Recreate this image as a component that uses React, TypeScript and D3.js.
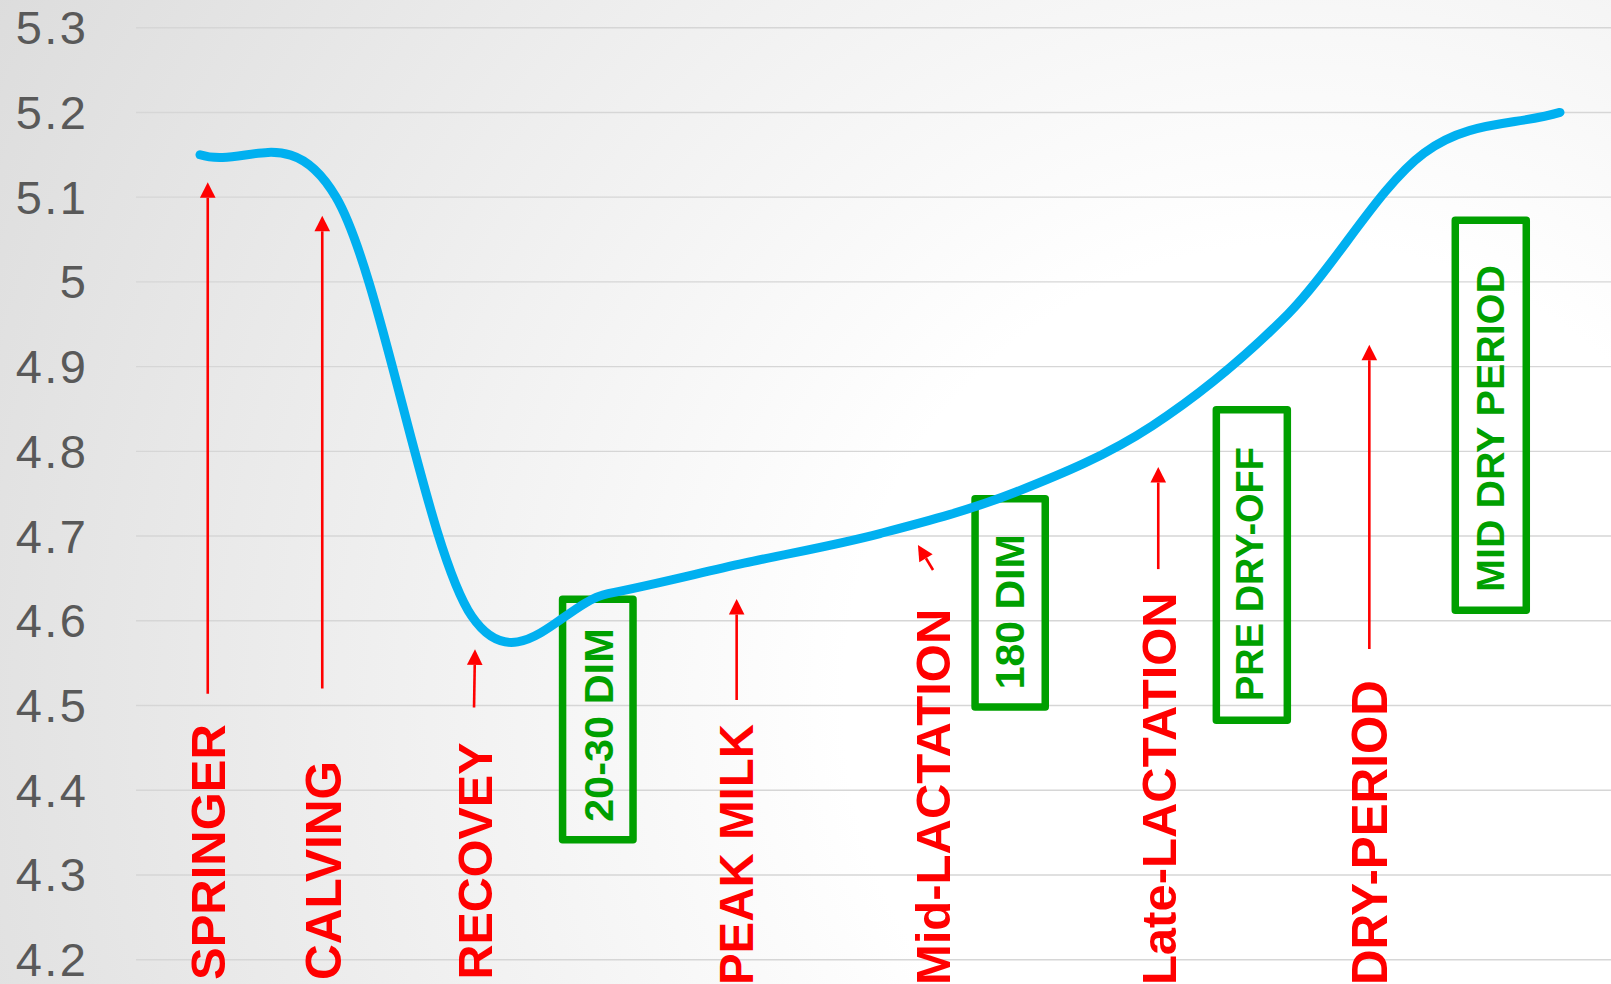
import React from 'react';
import * as d3 from 'd3';

const W = 1611;
const H = 984;

// value axis
const yTicks = [4.2, 4.3, 4.4, 4.5, 4.6, 4.7, 4.8, 4.9, 5.0, 5.1, 5.2, 5.3];
const yTickLabels = ['4.2', '4.3', '4.4', '4.5', '4.6', '4.7', '4.8', '4.9', '5', '5.1', '5.2', '5.3'];

// the smoothed curve: one value per stage of the cycle
const stages = [0, 1, 2, 3, 4, 5, 6, 7, 8, 9, 10];
const curveValues = [5.15, 5.1, 4.605, 4.632, 4.668, 4.703, 4.752, 4.83, 4.962, 5.152, 5.2];

// red phase labels, placed in chart units (stage index, value at text start)
const phaseNames = ['SPRINGER', 'CALVING', 'RECOVEY', 'PEAK MILK', 'Mid-LACTATION', 'Late-LACTATION', 'DRY-PERIOD'];
const phaseAt = [0.053, 0.907, 2.02, 3.943, 5.388, 7.044, 8.599];
const phaseStart = [4.176, 4.176, 4.1765, 4.17, 4.17, 4.17, 4.17];
const phaseFont = [49, 49.5, 48.5, 47.5, 49, 49, 49.3];

// red arrows: tail -> tip, in chart units
const arrowTail: [number, number][] = [
  [0.057, 4.514],
  [0.899, 4.52],
  [2.015, 4.4977],
  [3.946, 4.5065],
  [5.39, 4.66],
  [7.046, 4.661],
  [8.598, 4.5667],
];
const arrowTip: [number, number][] = [
  [0.057, 5.1175],
  [0.899, 5.0781],
  [2.022, 4.5664],
  [3.946, 4.6257],
  [5.279, 4.6895],
  [7.046, 4.7815],
  [8.598, 4.9258],
];

// green milestone boxes: text, box extent in chart units, text start
const milestoneNames = ['20-30 DIM', '180 DIM', 'PRE DRY-OFF', 'MID DRY PERIOD'];
const milestoneX0 = [2.666, 5.699, 7.473, 9.23];
const milestoneX1 = [3.184, 6.215, 7.995, 9.752];
const milestoneTop = [4.6254, 4.744, 4.8492, 5.0727];
const milestoneBottom = [4.3417, 4.4983, 4.4826, 4.6124];
const milestoneTextAt = [2.924, 5.95, 7.715, 9.485];
const milestoneTextStart = [4.3625, 4.5191, 4.5053, 4.634];
const milestoneFont = [41.5, 41, 38, 39.5];

const FONT = "'Liberation Sans', Arial, Helvetica, sans-serif";

// Cardinal (Catmull-Rom, tension 0) spline whose end tangents follow the
// first / last chord instead of being flat.
class ChordEndCardinal {
  private ctx: d3.Path;
  private xs: number[] = [];
  private ys: number[] = [];
  constructor(context: d3.Path) {
    this.ctx = context;
  }
  areaStart() {}
  areaEnd() {}
  lineStart() {
    this.xs = [];
    this.ys = [];
  }
  point(x: number, y: number) {
    this.xs.push(+x);
    this.ys.push(+y);
  }
  lineEnd() {
    const { xs, ys, ctx } = this;
    const n = xs.length;
    if (!n) return;
    ctx.moveTo(xs[0], ys[0]);
    if (n === 1) return;
    const tx = (i: number) =>
      i === 0 ? xs[1] - xs[0] : i === n - 1 ? xs[n - 1] - xs[n - 2] : (xs[i + 1] - xs[i - 1]) / 2;
    const ty = (i: number) =>
      i === 0 ? ys[1] - ys[0] : i === n - 1 ? ys[n - 1] - ys[n - 2] : (ys[i + 1] - ys[i - 1]) / 2;
    for (let i = 0; i < n - 1; i++) {
      ctx.bezierCurveTo(
        xs[i] + tx(i) / 3,
        ys[i] + ty(i) / 3,
        xs[i + 1] - tx(i + 1) / 3,
        ys[i + 1] - ty(i + 1) / 3,
        xs[i + 1],
        ys[i + 1]
      );
    }
  }
}
const curveChordEndCardinal = (context: any) => new ChordEndCardinal(context) as any;

export default function App() {
  const x = d3.scaleLinear().domain([0, 10]).range([200, 1560]);
  const y = d3.scaleLinear().domain([4.2, 5.3]).range([959.7, 27.7]);

  const line = d3
    .line<number>()
    .x((_, i) => x(stages[i]))
    .y((d) => y(d))
    .curve(curveChordEndCardinal);

  const gridLeft = 136;

  const arrows = arrowTail.map((t, i) => {
    const [tx, ty] = [x(t[0]), y(t[1])];
    const [hx, hy] = [x(arrowTip[i][0]), y(arrowTip[i][1])];
    const dx = hx - tx;
    const dy = hy - ty;
    const len = Math.hypot(dx, dy);
    const ux = dx / len;
    const uy = dy / len;
    const headLen = 15.5;
    const headHalf = 7.8;
    const bx = hx - ux * headLen;
    const by = hy - uy * headLen;
    const px = -uy;
    const py = ux;
    const head = [
      [hx, hy],
      [bx + px * headHalf, by + py * headHalf],
      [bx - px * headHalf, by - py * headHalf],
    ]
      .map((p) => p.join(','))
      .join(' ');
    return { tx, ty, bx, by, head };
  });

  return (
    <svg
      width={W}
      height={H}
      viewBox={`0 0 ${W} ${H}`}
      style={{ position: 'absolute', left: 0, top: 0, display: 'block' }}
    >
      <defs>
        <radialGradient id="bg" gradientUnits="userSpaceOnUse" cx={1300} cy={700} r={1520}>
          <stop offset="0" stopColor="#ffffff" />
          <stop offset="0.3" stopColor="#ffffff" />
          <stop offset="1" stopColor="#dbdbdb" />
        </radialGradient>
      </defs>
      <rect x={0} y={0} width={W} height={H} fill="url(#bg)" />

      {/* horizontal gridlines and value labels */}
      {yTicks.map((t, i) => (
        <g key={t}>
          <line x1={gridLeft} x2={W} y1={y(t)} y2={y(t)} stroke="#d6d6d6" strokeWidth={1.4} />
          <text
            x={88.5}
            y={y(t)}
            dy="0.35em"
            textAnchor="end"
            fontFamily={FONT}
            fontSize={47}
            letterSpacing={2.5}
            fill="#595959"
          >
            {yTickLabels[i]}
          </text>
        </g>
      ))}

      {/* red arrows */}
      {arrows.map((a, i) => (
        <g key={`arrow-${i}`}>
          <line x1={a.tx} y1={a.ty} x2={a.bx} y2={a.by} stroke="#ff0000" strokeWidth={2.6} />
          <polygon points={a.head} fill="#ff0000" />
        </g>
      ))}

      {/* green milestone boxes */}
      {milestoneNames.map((name, i) => {
        const x0 = x(milestoneX0[i]);
        const x1 = x(milestoneX1[i]);
        const y0 = y(milestoneTop[i]);
        const y1 = y(milestoneBottom[i]);
        const fs = milestoneFont[i];
        return (
          <g key={name}>
            <rect
              x={x0}
              y={y0}
              width={x1 - x0}
              height={y1 - y0}
              fill="none"
              stroke="#00a000"
              strokeWidth={7.5}
              strokeLinejoin="round"
            />
            <text
              transform={`translate(${x(milestoneTextAt[i])},${y(milestoneTextStart[i])}) rotate(-90)`}
              y={fs * 0.358}
              fontFamily={FONT}
              fontWeight="bold"
              fontSize={fs}
              fill="#00a000"
            >
              {name}
            </text>
          </g>
        );
      })}

      {/* the curve */}
      <path
        d={line(curveValues) || ''}
        fill="none"
        stroke="#00b0f0"
        strokeWidth={9}
        strokeLinecap="round"
        strokeLinejoin="round"
      />

      {/* red phase labels */}
      {phaseNames.map((name, i) => {
        const fs = phaseFont[i];
        return (
          <text
            key={name}
            transform={`translate(${x(phaseAt[i])},${y(phaseStart[i])}) rotate(-90)`}
            y={fs * 0.358}
            fontFamily={FONT}
            fontWeight="bold"
            fontSize={fs}
            fill="#ff0000"
          >
            {name}
          </text>
        );
      })}
    </svg>
  );
}
